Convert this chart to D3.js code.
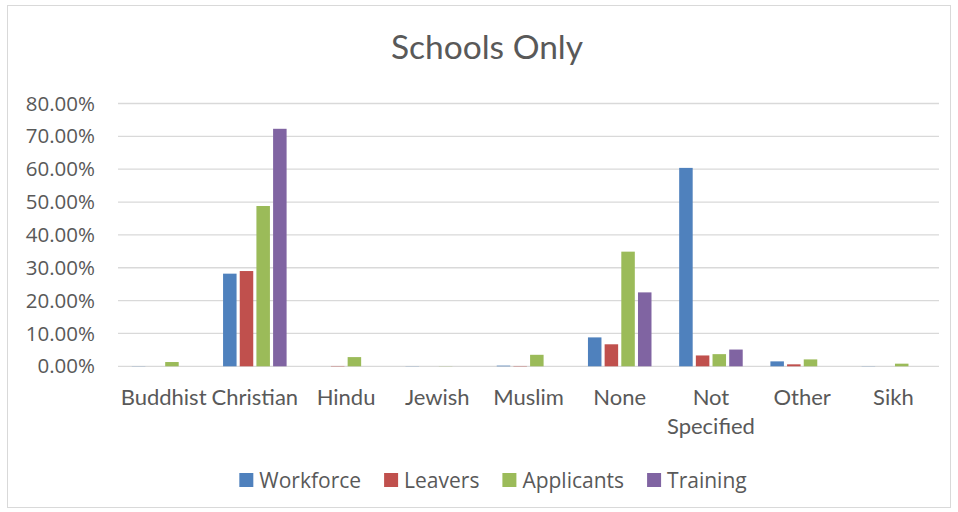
<!DOCTYPE html>
<html lang="en">
<head>
    <meta charset="UTF-8">
    <title>Schools Only</title>
    <style>
        body { margin: 0; background: #fff; }
        svg { display: block; }
    </style>
</head>
<body>
    <div id="chart"></div>

    <script src="https://cdnjs.cloudflare.com/ajax/libs/d3/7.8.5/d3.min.js"></script>
    <script>
        // Chart data (percent values)
        const categories = ["Buddhist", "Christian", "Hindu", "Jewish", "Muslim", "None", "Not Specified", "Other", "Sikh"];
        const seriesNames = ["Workforce", "Leavers", "Applicants", "Training"];
        const workforce  = [0.05, 28.2, 0.0, 0.05, 0.2, 8.8, 60.4, 1.5, 0.05];
        const leavers    = [0.0, 29.0, 0.1, 0.0, 0.1, 6.7, 3.3, 0.6, 0.0];
        const applicants = [1.3, 48.8, 2.8, 0.05, 3.5, 34.9, 3.7, 2.1, 0.8];
        const training   = [0.0, 72.3, 0.0, 0.0, 0.0, 22.5, 5.1, 0.0, 0.0];
        const yTicks = [0, 10, 20, 30, 40, 50, 60, 70, 80];
        const colors = ["#4F81BD", "#C0504D", "#9BBB59", "#8064A2"];

        const values = [workforce, leavers, applicants, training];

        const width = 958, height = 512;
        const plot = { left: 118, right: 939, top: 103.5, bottom: 366.3 };

        const svg = d3.select("#chart")
                      .append("svg")
                      .attr("width", width)
                      .attr("height", height);

        // Chart area border
        svg.append("rect")
           .attr("x", 7.5).attr("y", 5.5)
           .attr("width", 943).attr("height", 502)
           .attr("fill", "#fff")
           .attr("stroke", "#D9D9D9")
           .attr("stroke-width", 1);

        // Title
        svg.append("text")
           .attr("x", 487)
           .attr("y", 59)
           .attr("text-anchor", "middle")
           .style("font-family", "Lato, 'Open Sans', sans-serif")
           .style("font-size", "33.5px")
           .style("fill", "#595959")
           .text("Schools Only");

        // Scales
        const x0 = d3.scaleBand()
                     .domain(categories)
                     .range([plot.left, plot.right])
                     .padding(0);

        const x1 = d3.scaleBand()
                     .domain(seriesNames)
                     .range([0, x0.bandwidth()])
                     .paddingInner(0.19)
                     .paddingOuter(0.83);

        const y = d3.scaleLinear()
                    .domain([0, 80])
                    .range([plot.bottom, plot.top]);

        // Gridlines
        svg.append("g")
           .selectAll("line")
           .data(yTicks)
           .enter()
           .append("line")
           .attr("x1", plot.left)
           .attr("x2", plot.right)
           .attr("y1", d => y(d))
           .attr("y2", d => y(d))
           .attr("stroke", "#D9D9D9")
           .attr("stroke-width", 1.3);

        // Y axis labels
        const yAxis = d3.axisLeft(y)
                        .tickValues(yTicks)
                        .tickFormat(d => d.toFixed(2) + "%")
                        .tickSize(0)
                        .tickPadding(23);

        const yg = svg.append("g")
                      .attr("transform", "translate(" + plot.left + ",0)")
                      .call(yAxis);
        yg.select(".domain").remove();
        yg.selectAll("text")
          .style("font-family", "'Open Sans', sans-serif")
          .style("font-size", "20.5px")
          .style("fill", "#595959");

        // Bars
        const groups = svg.append("g")
                          .selectAll("g")
                          .data(seriesNames)
                          .enter()
                          .append("g")
                          .attr("fill", (d, i) => colors[i]);

        groups.selectAll("rect")
              .data((s, si) => categories.map((c, ci) => ({ cat: c, series: s, value: values[si][ci] })))
              .enter()
              .append("rect")
              .attr("x", d => x0(d.cat) + x1(d.series))
              .attr("width", x1.bandwidth())
              .attr("y", d => y(d.value))
              .attr("height", d => y(0) - y(d.value));

        // X axis labels (wrapped like the original)
        const xLabels = svg.append("g")
                           .selectAll("text")
                           .data(categories)
                           .enter()
                           .append("text")
                           .attr("x", d => x0(d) + x0.bandwidth() / 2)
                           .attr("y", 405)
                           .attr("text-anchor", "middle")
                           .style("font-family", "Lato, sans-serif")
                           .style("font-size", "22px")
                           .style("fill", "#595959");

        xLabels.each(function(d) {
            const words = d.split(" ");
            const t = d3.select(this);
            words.forEach((w, i) => {
                t.append("tspan")
                 .attr("x", x0(d) + x0.bandwidth() / 2)
                 .attr("dy", i === 0 ? 0 : 29)
                 .text(w);
            });
        });

        // Legend
        const legend = svg.append("g");
        let lx = 0;
        seriesNames.forEach((name, i) => {
            const item = legend.append("g").attr("transform", "translate(" + lx + ",0)");
            item.append("rect")
                .attr("x", 0).attr("y", 473)
                .attr("width", 14).attr("height", 14)
                .attr("fill", colors[i]);
            const label = item.append("text")
                .attr("x", 20)
                .attr("y", 488)
                .style("font-family", "'Open Sans', sans-serif")
                .style("font-size", "21px")
                .style("fill", "#595959")
                .text(name);
            lx += 20 + label.node().getComputedTextLength() + 23;
        });
        const legendWidth = lx - 23;
        legend.attr("transform", "translate(" + (493 - legendWidth / 2) + ",0)");
    </script>
</body>
</html>
